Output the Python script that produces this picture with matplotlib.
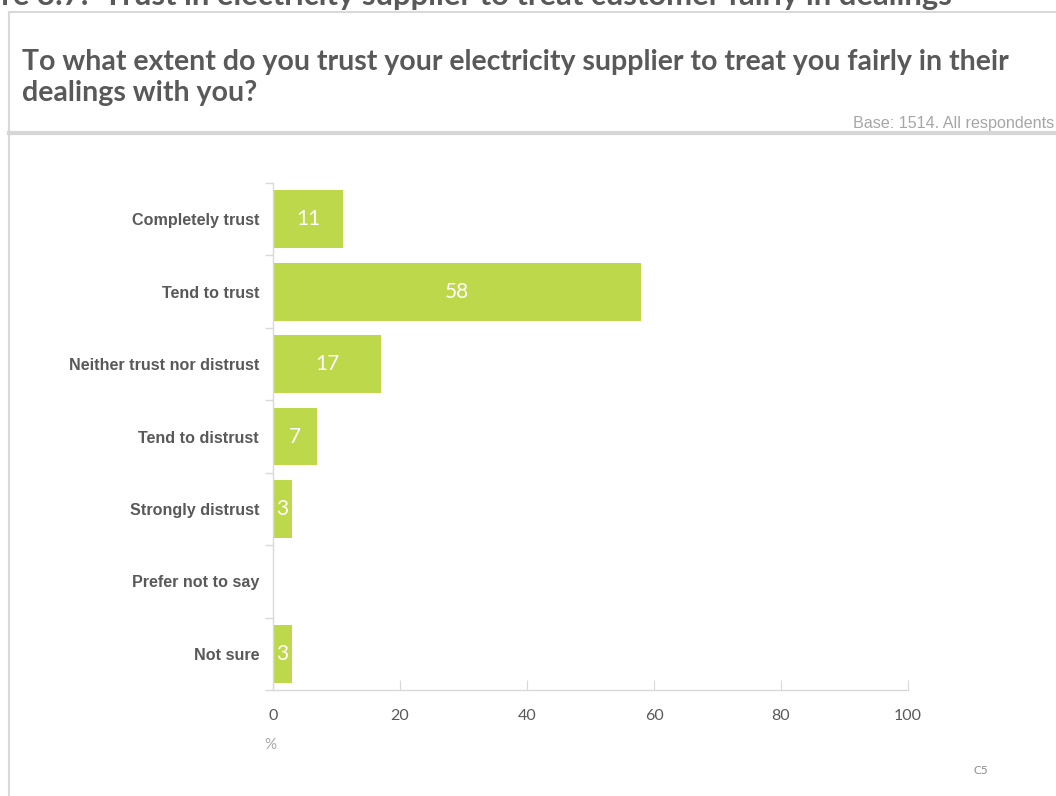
import matplotlib.pyplot as plt
from matplotlib.lines import Line2D

categories = ['Completely trust', 'Tend to trust', 'Neither trust nor distrust',
              'Tend to distrust', 'Strongly distrust', 'Prefer not to say', 'Not sure']
values = [11, 58, 17, 7, 3, 0, 3]
x_ticks = [0, 20, 40, 60, 80, 100]

heading = 'Figure 3.7:  Trust in electricity supplier to treat customer fairly in dealings'
question = 'To what extent do you trust your electricity supplier to treat you fairly in their\ndealings with you?'
base_note = 'Base: 1514. All respondents'

bar_col = '#bdd84a'
axis_col = '#d9d9d9'
text_col = '#595959'

W, H = 1056, 796
fig = plt.figure(figsize=(W / 100, H / 100), dpi=100)

def px(x, y):
    return x / W, 1 - y / H

# frame around the chart
fig.add_artist(Line2D([px(9, 0)[0], px(9, 0)[0]], [px(0, 12)[1], 0], color='#d9d9d9', lw=1.5))
fig.add_artist(Line2D([px(9, 0)[0], 1], [px(0, 12)[1]] * 2, color='#d9d9d9', lw=1.5))
fig.add_artist(Line2D([px(9, 0)[0], 1], [px(0, 133)[1]] * 2, color='#d6d6d6', lw=3))

fig.text(*px(952, 5), heading, ha='right', va='baseline', fontsize=22.35,
         fontweight='bold', color='#595959', family='Lato')
fig.text(*px(22, 70), question.split('\n')[0], ha='left', va='baseline', fontsize=20.5,
         fontweight='bold', color=text_col, family='Lato')
fig.text(*px(22, 101), question.split('\n')[1], ha='left', va='baseline', fontsize=20.5,
         fontweight='bold', color=text_col, family='Lato')
fig.text(*px(1054, 128), base_note, ha='right', va='baseline', fontsize=11.6,
         color='#a6a6a6', family='Liberation Sans')

ax = fig.add_axes([273 / W, 1 - 690 / H, (908 - 273) / W, (690 - 183) / H])
pos = list(range(len(categories)))
bars = ax.barh(pos, values, height=0.8, color=bar_col)
for b, v in zip(bars, values):
    if v > 0:
        ax.text(v / 2, b.get_y() + b.get_height() / 2, str(v), ha='center', va='center',
                color='white', fontsize=15, family='Lato')

ax.set_xlim(0, 100)
ax.set_ylim(len(categories) - 0.5, -0.5)
ax.set_yticks(pos, categories)
ax.set_yticks([p - 0.5 for p in pos] + [len(categories) - 0.5], minor=True)
ax.tick_params(axis='y', which='major', length=0, pad=10, labelsize=11.6, labelcolor=text_col)
ax.tick_params(axis='y', which='minor', length=6, color=axis_col, width=1)
for lbl in ax.get_yticklabels():
    lbl.set_fontweight('bold')
    lbl.set_family('Liberation Sans')
ax.set_xticks(x_ticks)
ax.tick_params(axis='x', direction='in', length=7, color=axis_col, pad=14,
               labelsize=11.5, labelcolor=text_col)
for lbl in ax.get_xticklabels():
    lbl.set_family('Lato')

for s in ['top', 'right']:
    ax.spines[s].set_visible(False)
for s in ['left', 'bottom']:
    ax.spines[s].set_color(axis_col)
    ax.spines[s].set_linewidth(1)

fig.text(*px(270, 745), '%', ha='center', va='center', fontsize=11, color='#a6a6a6', family='Lato')
fig.text(*px(981, 771), 'C5', ha='center', va='center', fontsize=8.5, color='#8c8c8c', family='Lato')

fig.savefig('out.png', dpi=100)
